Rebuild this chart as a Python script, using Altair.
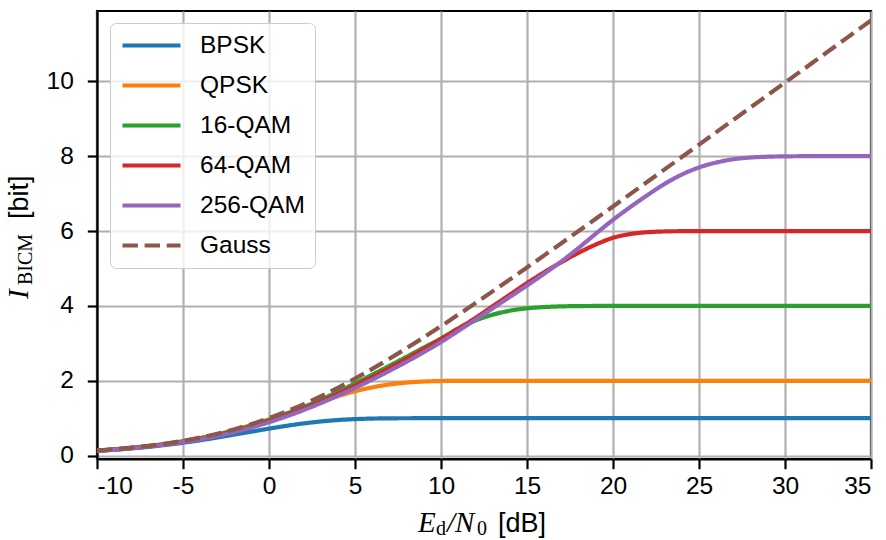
import altair as alt
import pandas as pd

snr_db = [-10, -9, -8, -7, -6, -5, -4, -3, -2, -1, 0,
          1, 2, 3, 4, 5, 6, 7, 8, 9, 10,
          11, 12, 13, 14, 15, 16, 17, 18, 19, 20,
          21, 22, 23, 24, 25, 26, 27, 28, 29, 30,
          31, 32, 33, 34, 35]

bpsk = [0.128, 0.158, 0.193, 0.236, 0.286, 0.344, 0.410, 0.486, 0.564, 0.643, 0.722,
        0.795, 0.860, 0.912, 0.951, 0.976, 0.990, 0.9965, 0.999, 1.0, 1.0,
        1.0, 1.0, 1.0, 1.0, 1.0, 1.0, 1.0, 1.0, 1.0, 1.0,
        1.0, 1.0, 1.0, 1.0, 1.0, 1.0, 1.0, 1.0, 1.0, 1.0,
        1.0, 1.0, 1.0, 1.0, 1.0]

qpsk = [0.136, 0.170, 0.211, 0.256, 0.316, 0.386, 0.472, 0.572, 0.690, 0.824, 0.972,
        1.128, 1.286, 1.444, 1.590, 1.720, 1.824, 1.902, 1.952, 1.980, 1.993,
        1.998, 2.0, 2.0, 2.0, 2.0, 2.0, 2.0, 2.0, 2.0, 2.0,
        2.0, 2.0, 2.0, 2.0, 2.0, 2.0, 2.0, 2.0, 2.0, 2.0,
        2.0, 2.0, 2.0, 2.0, 2.0]

qam16 = [0.133, 0.166, 0.206, 0.255, 0.313, 0.383, 0.466, 0.563, 0.676, 0.806, 0.953,
         1.117, 1.297, 1.494, 1.706, 1.929, 2.162, 2.400, 2.641, 2.887, 3.130,
         3.400, 3.610, 3.765, 3.872, 3.936, 3.970, 3.988, 3.996, 3.999, 4.0,
         4.0, 4.0, 4.0, 4.0, 4.0, 4.0, 4.0, 4.0, 4.0, 4.0,
         4.0, 4.0, 4.0, 4.0, 4.0]

qam64 = [0.131, 0.163, 0.202, 0.249, 0.305, 0.372, 0.452, 0.546, 0.655, 0.780, 0.922,
         1.080, 1.255, 1.446, 1.652, 1.870, 2.100, 2.340, 2.588, 2.848, 3.115,
         3.390, 3.680, 3.990, 4.300, 4.610, 4.900, 5.170, 5.420, 5.640, 5.820,
         5.920, 5.970, 5.990, 5.997, 6.0, 6.0, 6.0, 6.0, 6.0, 6.0,
         6.0, 6.0, 6.0, 6.0, 6.0]

qam256 = [0.128, 0.159, 0.197, 0.243, 0.297, 0.362, 0.439, 0.529, 0.634, 0.755, 0.892,
          1.046, 1.216, 1.401, 1.600, 1.810, 2.032, 2.265, 2.508, 2.765, 3.035,
          3.330, 3.630, 3.935, 4.240, 4.545, 4.860, 5.190, 5.550, 5.930, 6.300,
          6.640, 6.960, 7.260, 7.510, 7.700, 7.830, 7.920, 7.965, 7.987, 7.996,
          8.0, 8.0, 8.0, 8.0, 8.0]

gauss = [0.1375, 0.1711, 0.2124, 0.2627, 0.3233, 0.3959, 0.4832, 0.5857, 0.7065, 0.8436, 1.0000,
         1.1757, 1.3700, 1.5827, 1.8122, 2.0574, 2.3164, 2.5880, 2.8698, 3.1608, 3.4594,
         3.7645, 4.0746, 4.3891, 4.7070, 5.0278, 5.3509, 5.6758, 6.0022, 6.3298, 6.6582,
         6.9874, 7.3173, 7.6477, 7.9783, 8.3094, 8.6407, 8.9720, 9.3037, 9.6354, 9.9672,
         10.2991, 10.6310, 10.9630, 11.2950, 11.6270]

series_names = ["BPSK", "QPSK", "16-QAM", "64-QAM", "256-QAM", "Gauss"]
series_values = [bpsk, qpsk, qam16, qam64, qam256, gauss]
colors = ["#1f77b4", "#ff7f0e", "#2ca02c", "#d62728", "#9467bd", "#8c564b"]
dashes = [[1, 0], [1, 0], [1, 0], [1, 0], [1, 0], [15.4, 6.7]]

x_ticks = [-10, -5, 0, 5, 10, 15, 20, 25, 30, 35]
y_ticks = [0, 2, 4, 6, 8, 10]

rows = []
for name, vals in zip(series_names, series_values):
    for xv, yv in zip(snr_db, vals):
        rows.append({"snr": xv, "I": yv, "scheme": name})
df = pd.DataFrame(rows)

SANS = "Liberation Sans"
SERIF = "Liberation Serif"
FS = 24.5

legend_kw = dict(
    orient="none", legendX=13, legendY=12, title=None,
    symbolType="stroke", symbolSize=3364, symbolStrokeWidth=4.2,
    labelFontSize=FS, labelFont=SANS, labelColor="black", labelOffset=17,
    clipHeight=25, rowPadding=14, padding=10, cornerRadius=6,
    strokeColor="#cccccc", fillColor="rgba(255,255,255,0.8)",
)

lines = alt.Chart(df).mark_line(strokeWidth=4.2, clip=True, interpolate="monotone").encode(
    x=alt.X("snr:Q",
            scale=alt.Scale(domain=[-10, 35], nice=False, zero=False),
            axis=alt.Axis(values=x_ticks, labelExpr="'' + datum.value", title=None,
                          labelPadding=6)),
    y=alt.Y("I:Q",
            scale=alt.Scale(domain=[-0.09, 11.88], nice=False, zero=False),
            axis=alt.Axis(values=y_ticks, title=None, labelPadding=14)),
    color=alt.Color("scheme:N", scale=alt.Scale(domain=series_names, range=colors),
                    legend=alt.Legend(**legend_kw)),
    strokeDash=alt.StrokeDash("scheme:N", scale=alt.Scale(domain=series_names, range=dashes),
                              legend=alt.Legend(**legend_kw)),
)


def piece(s, x, y, size, font, style="normal", angle=0):
    return alt.Chart(pd.DataFrame({"t": [s]})).mark_text(
        align="left", baseline="alphabetic", fontSize=size, font=font,
        fontStyle=style, angle=angle, color="black",
    ).encode(text="t:N", x=alt.value(x), y=alt.value(y))


# x-axis title: E_d / N_0 [dB]
xt = [
    piece("E", 321, 521, 29, SERIF, "italic"),
    piece("d", 339, 524, 20, SERIF),
    piece("/N", 350, 521, 29, SERIF, "italic"),
    piece("0", 380, 524, 20, SERIF),
    piece("[dB]", 401, 521, 27, SANS),
]
# y-axis title: I_BICM [bit]  (rotated)
yt = [
    piece("I", -69, 288, 29, SERIF, "italic", 270),
    piece("BICM", -65, 274, 20, SERIF, angle=270),
    piece("[bit]", -69, 208, 27, SANS, angle=270),
]

chart = alt.layer(lines, *xt, *yt).properties(
    width=774, height=448,
    padding={"left": 97, "top": 11, "right": 15, "bottom": 81},
    autosize=alt.AutoSizeParams(type="none"),
    background="white",
).configure_view(
    stroke="black", strokeWidth=2.2,
).configure_axis(
    domainColor="black", domainWidth=2.2,
    tickColor="black", tickWidth=2.2, tickSize=9.7,
    gridColor="#b0b0b0", gridWidth=2.2,
    labelFont=SANS, labelFontSize=FS, labelColor="black",
)

chart.save("out.html", embed_options={"renderer": "svg", "actions": False})
